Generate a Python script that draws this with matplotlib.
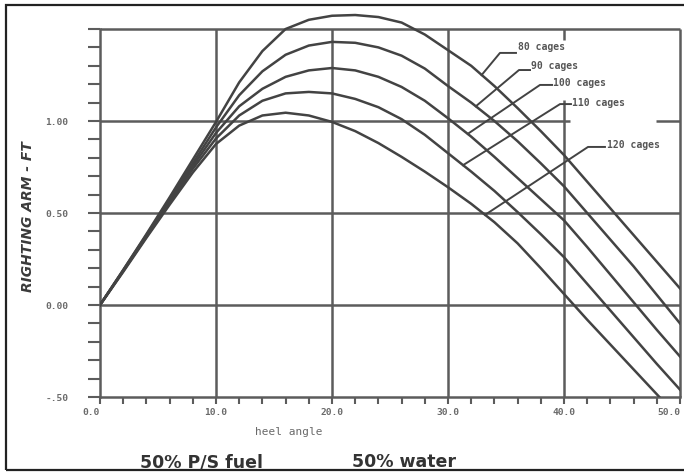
import matplotlib
matplotlib.use("Agg")
import matplotlib.pyplot as plt
from matplotlib.patches import Rectangle
from matplotlib.ticker import FixedLocator

# heel angle (deg) and righting arm (ft)
heel_angle = [0, 2, 4, 6, 8, 10, 12, 14, 16, 18, 20, 22, 24, 26,
              28, 30, 32, 34, 36, 38, 40, 42, 44, 46, 48, 50]
ra_80 = [0.00, 0.19, 0.385, 0.585, 0.79, 0.995, 1.21, 1.38, 1.50, 1.55, 1.572, 1.576, 1.565,
         1.535, 1.47, 1.385, 1.30, 1.19, 1.07, 0.945, 0.815, 0.67, 0.525, 0.38, 0.235, 0.09]
ra_90 = [0.00, 0.19, 0.38, 0.575, 0.77, 0.965, 1.14, 1.27, 1.36, 1.41, 1.43, 1.425, 1.40,
         1.355, 1.285, 1.19, 1.10, 1.00, 0.89, 0.77, 0.645, 0.50, 0.355, 0.21, 0.055, -0.10]
ra_100 = [0.00, 0.185, 0.375, 0.565, 0.755, 0.935, 1.08, 1.175, 1.24, 1.275, 1.288, 1.275, 1.24,
          1.185, 1.11, 1.015, 0.915, 0.805, 0.69, 0.575, 0.46, 0.315, 0.165, 0.015, -0.135, -0.28]
ra_110 = [0.00, 0.185, 0.37, 0.555, 0.74, 0.905, 1.03, 1.11, 1.15, 1.158, 1.15, 1.12, 1.075,
          1.01, 0.925, 0.825, 0.725, 0.62, 0.505, 0.385, 0.26, 0.115, -0.03, -0.175, -0.32, -0.46]
ra_120 = [0.00, 0.18, 0.365, 0.545, 0.72, 0.875, 0.975, 1.03, 1.045, 1.03, 0.995, 0.945, 0.88,
          0.805, 0.725, 0.64, 0.55, 0.45, 0.335, 0.20, 0.06, -0.08, -0.215, -0.35, -0.485, -0.62]
series = [ra_80, ra_90, ra_100, ra_110, ra_120]
curve_labels = ["80 cages", "90 cages", "100 cages", "110 cages", "120 cages"]

x_ticks = [0, 10, 20, 30, 40, 50]
x_tick_labels = ["0.0", "10.0", "20.0", "30.0", "40.0", "50.0"]
y_ticks = [-0.5, 0.0, 0.5, 1.0, 1.5]
y_tick_labels = ["-.50", "0.00", "0.50", "1.00", ""]

# label placement (text anchor + leader polyline)
label_pos = [(36.03, 1.40), (37.16, 1.30), (39.05, 1.207), (40.69, 1.098), (43.71, 0.870)]
leader_x = [[32.9, 34.48, 35.86], [32.4, 36.12, 37.07], [31.7, 37.93, 38.97],
            [31.3, 39.66, 40.6], [33.2, 42.07, 43.53]]
leader_y = [[1.25, 1.37, 1.37], [1.08, 1.277, 1.277], [0.93, 1.196, 1.196],
            [0.76, 1.092, 1.092], [0.49, 0.859, 0.859]]

W, H = 684, 473
grid_col = "#5c5c5c"
curve_col = "#434343"
txt_col = "#6a6a6a"

fig = plt.figure(figsize=(W / 100, H / 100), dpi=100)
ax = fig.add_axes([0, 0, 1, 1])
ax.set_xlim(-100 / 11.6, 584 / 11.6)
ax.set_ylim(-168 / 184, 305 / 184)

for s in ["top", "right"]:
    ax.spines[s].set_visible(False)
ax.spines["left"].set_position(("data", 0))
ax.spines["left"].set_bounds(-0.5, 1.5)
ax.spines["bottom"].set_position(("data", -0.5))
ax.spines["bottom"].set_bounds(0, 50)
for s in ["left", "bottom"]:
    ax.spines[s].set_color(grid_col)
    ax.spines[s].set_linewidth(1.8)

ax.set_xticks(x_ticks)
ax.set_xticklabels(x_tick_labels, fontfamily="DejaVu Sans Mono", fontweight="bold",
                   fontsize=6.8, color=txt_col)
ax.get_xticklabels()[0].set_horizontalalignment("right")
ax.get_xticklabels()[-1].set_horizontalalignment("right")
ax.xaxis.set_minor_locator(FixedLocator(list(range(0, 51, 2))))
ax.set_yticks(y_ticks)
ax.set_yticklabels(y_tick_labels, fontfamily="DejaVu Sans Mono", fontweight="bold",
                   fontsize=6.8, color=txt_col)
ax.yaxis.set_minor_locator(FixedLocator([i / 10 for i in range(-5, 16)]))
ax.tick_params(axis="y", which="both", length=8.6, width=1.5, color=grid_col, pad=14)
ax.tick_params(axis="x", which="both", length=5, width=1.5, color=grid_col, pad=3)

# grid
ax.hlines([0.0, 0.5, 1.5], 0, 50, color=grid_col, lw=1.8, zorder=1)
ax.hlines(1.0, 0, 40.5, color=grid_col, lw=1.8, zorder=1)
ax.hlines(1.0, 47.9, 50, color=grid_col, lw=1.8, zorder=1)
ax.vlines([10, 20, 30, 50], -0.5, 1.5, color=grid_col, lw=1.8, zorder=1)
ax.vlines(40, -0.5, 1.114, color=grid_col, lw=1.8, zorder=1)
ax.vlines(40, 1.44, 1.5, color=grid_col, lw=1.8, zorder=1)

for vals in series:
    line, = ax.plot(heel_angle, vals, color=curve_col, lw=1.8, zorder=3)
    line.set_clip_path(Rectangle((0, -0.5), 50, 2.3, transform=ax.transData))

for lab, (tx, ty), lx, ly in zip(curve_labels, label_pos, leader_x, leader_y):
    ax.plot(lx, ly, color=curve_col, lw=1.4, zorder=4)
    ax.text(tx, ty, lab, fontfamily="DejaVu Sans Mono", fontweight="bold", fontsize=7,
            color="#555555", ha="left", va="center", zorder=5)

ax.set_xlabel("heel angle", fontfamily="DejaVu Sans Mono", fontsize=8, color=txt_col, va="center")
ax.xaxis.set_label_coords(289 / W, 1 - 432 / H)
ax.set_ylabel("RIGHTING ARM - FT", fontsize=10, fontweight="bold", fontstyle="italic",
              color="#3a3a3a", va="center")
ax.yaxis.set_label_coords(28 / W, 1 - 217 / H)

fig.text(140 / W, 1 - 462 / H, "50% P/S fuel", fontsize=12.5, fontweight="bold",
         color="#333333", ha="left", va="center")
fig.text(352 / W, 1 - 462 / H, "50% water", fontsize=12.5, fontweight="bold",
         color="#333333", ha="left", va="center")

fig.add_artist(Rectangle((6 / W, 1 - 470 / H), (W + 10) / W, 465 / H,
                         transform=fig.transFigure, fill=False, ec="#222222", lw=1.6))

fig.savefig("out.png", dpi=100)
